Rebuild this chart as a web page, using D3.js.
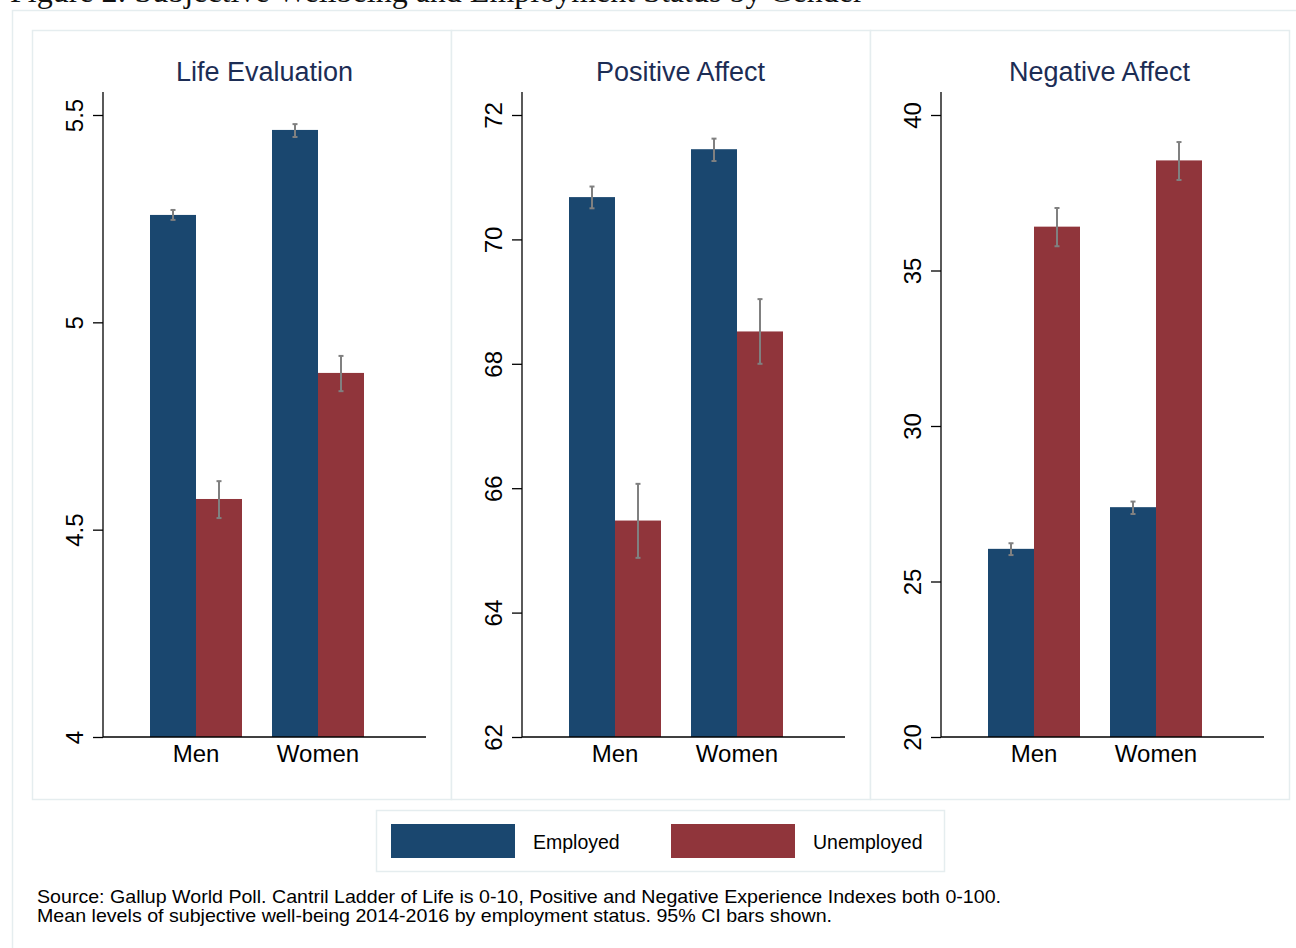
<!DOCTYPE html>
<html>
<head>
<meta charset="utf-8">
<script src="https://cdn.jsdelivr.net/npm/d3@7"></script>
<style>
  html, body { margin: 0; padding: 0; background: #ffffff; }
  svg { display: block; }
  text { font-family: "Liberation Sans", Arial, Helvetica, sans-serif; }
</style>
</head>
<body>
<svg id="chart" width="1296" height="948"></svg>
<script>
// ---------------- data ----------------
const figureTitle = "Figure 2: Subjective Wellbeing and Employment Status by Gender";
const categories = ["Men", "Women"];
const seriesNames = ["Employed", "Unemployed"];
const panelTitles = ["Life Evaluation", "Positive Affect", "Negative Affect"];

const lifeEvalEmployed = [5.259, 5.464];
const lifeEvalEmployedCI = [[5.247, 5.271], [5.447, 5.478]];
const lifeEvalUnemployed = [4.574, 4.878];
const lifeEvalUnemployedCI = [[4.528, 4.617], [4.834, 4.919]];
const lifeEvalTicks = [4, 4.5, 5, 5.5];
const lifeEvalTickLabels = ["4", "4.5", "5", "5.5"];

const posAffectEmployed = [70.68, 71.45];
const posAffectEmployedCI = [[70.50, 70.85], [71.26, 71.62]];
const posAffectUnemployed = [65.48, 68.52];
const posAffectUnemployedCI = [[64.88, 66.07], [68.00, 69.04]];
const posAffectTicks = [62, 64, 66, 68, 70, 72];
const posAffectTickLabels = ["62", "64", "66", "68", "70", "72"];

const negAffectEmployed = [26.05, 27.39];
const negAffectEmployedCI = [[25.85, 26.23], [27.17, 27.57]];
const negAffectUnemployed = [36.41, 38.54];
const negAffectUnemployedCI = [[35.78, 37.01], [37.91, 39.13]];
const negAffectTicks = [20, 25, 30, 35, 40];
const negAffectTickLabels = ["20", "25", "30", "35", "40"];

const sourceLines = [
  "Source: Gallup World Poll. Cantril Ladder of Life is 0-10, Positive and Negative Experience Indexes both 0-100.",
  "Mean levels of subjective well-being 2014-2016 by employment status. 95% CI bars shown."
];

// ---------------- build ----------------
const panels = [
  { title: panelTitles[0], emp: lifeEvalEmployed, empCI: lifeEvalEmployedCI, un: lifeEvalUnemployed, unCI: lifeEvalUnemployedCI, ticks: lifeEvalTicks, labels: lifeEvalTickLabels },
  { title: panelTitles[1], emp: posAffectEmployed, empCI: posAffectEmployedCI, un: posAffectUnemployed, unCI: posAffectUnemployedCI, ticks: posAffectTicks, labels: posAffectTickLabels },
  { title: panelTitles[2], emp: negAffectEmployed, empCI: negAffectEmployedCI, un: negAffectUnemployed, unCI: negAffectUnemployedCI, ticks: negAffectTicks, labels: negAffectTickLabels }
];

const colors = { Employed: "#1a476f", Unemployed: "#90353b" };
const frameColor = "#e5edef";

const svg = d3.select("#chart");

// outer graph region
svg.append("rect").attr("x", 12.5).attr("y", 10.5).attr("width", 1300).attr("height", 960)
  .attr("fill", "#ffffff").attr("stroke", frameColor).attr("stroke-width", 1.5);

// figure title (mostly cut off at top, as in the source image)
svg.append("text").attr("x", 10).attr("y", 1.5)
  .style("font-family", "'Liberation Serif', 'Times New Roman', serif")
  .style("font-size", "32px").attr("fill", "#111").text(figureTitle);

const panelX0 = 32, panelW = 419, panelY = 30, panelH = 769;
const plotTop = 92, plotBottom = 737, plotLeftOff = 71, plotW = 323;

panels.forEach((p, i) => {
  const px = panelX0 + i * panelW;
  const g = svg.append("g");
  g.append("rect").attr("x", px + 0.5).attr("y", panelY + 0.5).attr("width", panelW).attr("height", panelH)
    .attr("fill", "#ffffff").attr("stroke", frameColor).attr("stroke-width", 1.5);

  const left = px + plotLeftOff;
  const right = left + plotW;

  const y = d3.scaleLinear()
    .domain([p.ticks[0], p.ticks[p.ticks.length - 1]])
    .range([plotBottom, 115]);

  const x0 = d3.scaleBand().domain(categories)
    .range([left + 47, left + 261]).paddingInner(30 / 122).paddingOuter(0);
  const x1 = d3.scaleBand().domain(seriesNames).range([0, x0.bandwidth()]).padding(0);

  // title
  g.append("text").attr("x", (left + right) / 2 - (i === 0 ? 0 : 3)).attr("y", 80.5)
    .attr("text-anchor", "middle").style("font-size", "27px").attr("fill", "#1c2d55")
    .text(p.title);

  // bars
  const rows = categories.map((c, k) => [
    { cat: c, s: "Employed", v: p.emp[k], ci: p.empCI[k] },
    { cat: c, s: "Unemployed", v: p.un[k], ci: p.unCI[k] }
  ]).flat();

  g.selectAll("rect.bar").data(rows).join("rect").attr("class", "bar")
    .attr("x", d => x0(d.cat) + x1(d.s))
    .attr("y", d => y(d.v))
    .attr("width", x1.bandwidth())
    .attr("height", d => plotBottom - y(d.v))
    .attr("fill", d => colors[d.s]);

  // CI bars
  const ci = g.selectAll("g.ci").data(rows).join("g").attr("class", "ci")
    .attr("stroke", "#808080").attr("stroke-width", 2);
  ci.append("line")
    .attr("x1", d => x0(d.cat) + x1(d.s) + x1.bandwidth() / 2)
    .attr("x2", d => x0(d.cat) + x1(d.s) + x1.bandwidth() / 2)
    .attr("y1", d => y(d.ci[0])).attr("y2", d => y(d.ci[1]));
  [0, 1].forEach(j => {
    ci.append("line")
      .attr("x1", d => x0(d.cat) + x1(d.s) + x1.bandwidth() / 2 - 2.5)
      .attr("x2", d => x0(d.cat) + x1(d.s) + x1.bandwidth() / 2 + 2.5)
      .attr("y1", d => y(d.ci[j])).attr("y2", d => y(d.ci[j]));
  });

  // y axis
  const yAxis = d3.axisLeft(y).tickValues(p.ticks).tickSize(10).tickFormat((d, k) => p.labels[k]);
  const ya = g.append("g").attr("transform", `translate(${left},0)`).call(yAxis);
  ya.select(".domain").remove();
  ya.selectAll(".tick line").attr("stroke", "#000").attr("stroke-width", 1.3);
  ya.selectAll(".tick text")
    .attr("x", null).attr("dy", null)
    .attr("text-anchor", "middle")
    .attr("transform", "translate(-20,0) rotate(-90)")
    .attr("fill", "#000").style("font-size", "24px");
  g.append("line").attr("x1", left).attr("x2", left).attr("y1", plotTop).attr("y2", plotBottom)
    .attr("stroke", "#000").attr("stroke-width", 1.3);

  // x axis
  g.append("line").attr("x1", left).attr("x2", right).attr("y1", plotBottom).attr("y2", plotBottom)
    .attr("stroke", "#000").attr("stroke-width", 1.3);
  g.selectAll("text.cat").data(categories).join("text").attr("class", "cat")
    .attr("x", d => x0(d) + x0.bandwidth() / 2).attr("y", 762)
    .attr("text-anchor", "middle").style("font-size", "24px").attr("fill", "#000")
    .text(d => d);
});

// legend
const lg = svg.append("g");
lg.append("rect").attr("x", 376.5).attr("y", 810.5).attr("width", 568).attr("height", 61)
  .attr("fill", "#fff").attr("stroke", frameColor).attr("stroke-width", 1.5);
const legendX = d3.scaleOrdinal().domain(seriesNames).range([391, 671]);
seriesNames.forEach(s => {
  lg.append("rect").attr("x", legendX(s)).attr("y", 824).attr("width", 124).attr("height", 34)
    .attr("fill", colors[s]);
  lg.append("text").attr("x", legendX(s) + 142).attr("y", 849)
    .style("font-size", "19.5px").attr("fill", "#000").text(s);
});

// source note
const srcWidths = [964, 795];
svg.selectAll("text.src").data(sourceLines).join("text").attr("class", "src")
  .attr("x", 37).attr("y", (d, k) => 903 + k * 19)
  .attr("textLength", (d, k) => srcWidths[k]).attr("lengthAdjust", "spacingAndGlyphs")
  .style("font-size", "18.5px").attr("fill", "#000").text(d => d);
</script>
</body>
</html>
